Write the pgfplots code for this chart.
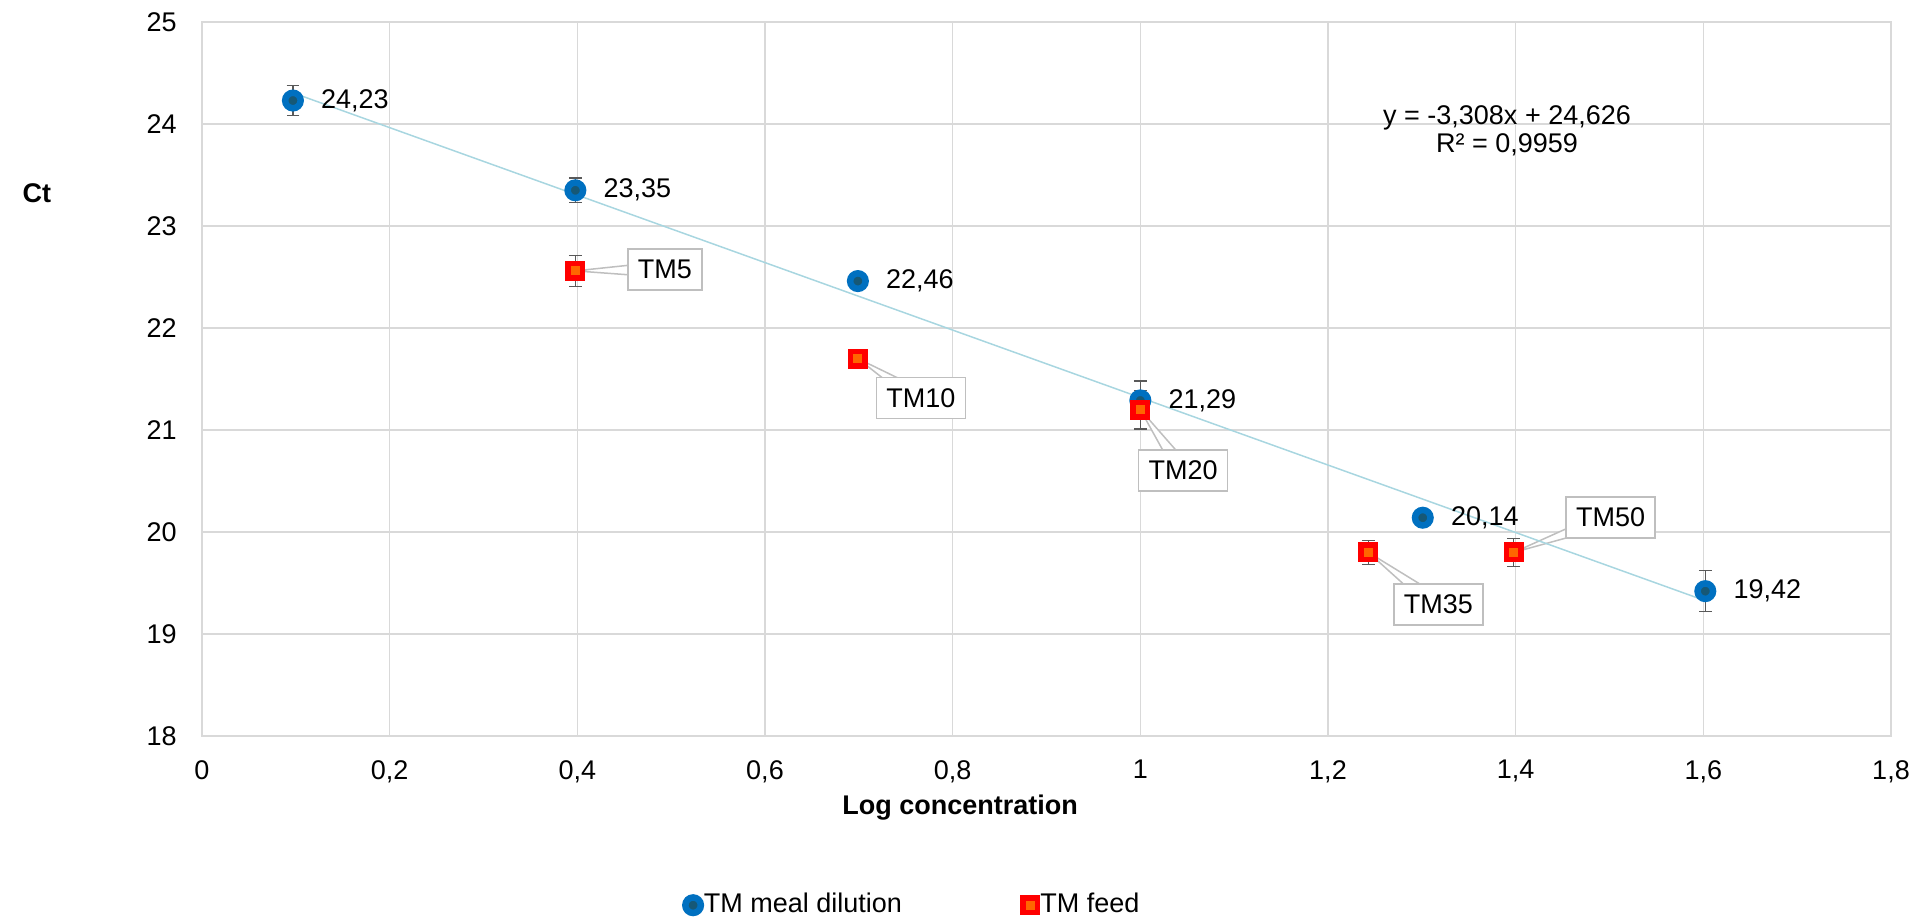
\documentclass[border=0pt]{standalone}
\usepackage{fontspec}
\setmainfont{Liberation Sans}
\usepackage{pgfplots}
\pgfplotsset{compat=1.18}
\usepackage{pgfplotstable}
\definecolor{mealblue}{RGB}{0,112,192}
\definecolor{mealdark}{RGB}{22,88,118}
\definecolor{feedred}{RGB}{255,0,0}
\definecolor{feedorange}{RGB}{255,102,0}
\definecolor{gridgray}{RGB}{217,217,217}
\definecolor{errgray}{RGB}{89,89,89}
\definecolor{trendblue}{RGB}{168,214,224}
\definecolor{calloutgray}{RGB}{191,191,191}

\pgfplotstableread{
x y e
0.0969 24.23 0.15
0.3979 23.35 0.12
0.6990 22.46 0.04
1.0000 21.29 0.19
1.3010 20.14 0.04
1.6021 19.42 0.20
}\mealdata

\pgfplotstableread{
x y e label dx dy
0.3979 22.56 0.15 TM5 44.75 0.7
0.6990 21.70 0.06 TM10 31.5 -19.7
1.0000 21.20 0.19 TM20 21.35 -30.35
1.2430 19.80 0.12 TM35 35 -26.15
1.3979 19.80 0.14 TM50 48.5 17.45
}\feeddata

\begin{document}
\fontsize{13.5}{16}\selectfont
\begin{tikzpicture}
\useasboundingbox (-101pt,-92.5pt) rectangle (858.5pt,368pt);
\begin{axis}[
  at={(0,0)}, anchor=south west,
  scale only axis, width=844.5pt, height=357pt,
  xmin=0, xmax=1.8, ymin=18, ymax=25,
  xtick={0,0.2,0.4,0.6,0.8,1,1.2,1.4,1.6,1.8},
  ytick={18,19,20,21,22,23,24,25},
  grid=major,
  major grid style={gridgray, line width=0.75pt},
  axis line style={gridgray, line width=0.75pt},
  major tick length=0pt,
  /pgf/number format/assume math mode=true,
  /pgf/number format/use comma,
  yticklabel style={xshift=-8pt},
  xticklabel style={yshift=-7.5pt},
  every axis x label/.style={at={(axis description cs:0.4488,-0.1008)}, anchor=center},
  every axis y label/.style={at={(axis description cs:-0.0977,0.7605)}, anchor=center},
  xlabel={\textbf{Log concentration}},
  ylabel={\textbf{Ct}},
  clip=false,
  legend columns=2,
  legend style={at={(axis description cs:0.4215,-0.237)}, anchor=center, draw=none,
    nodes={inner sep=1.5pt},
    /tikz/every even column/.append style={column sep=59pt}},
  legend cell align=left,
  legend image code/.code={\draw[#1] plot coordinates {(0pt,0pt)};},
]
\addplot[only marks, mark=*, mark size=3.875pt,
  mark options={draw=mealblue, fill=mealdark, line width=3.25pt},
  error bars/y dir=both, error bars/y explicit,
  error bars/error bar style={errgray, line width=0.6pt},
  error bars/error mark options={errgray, mark size=3.2pt, line width=0.6pt, rotate=90},
  point meta=y,
  nodes near coords={\pgfmathprintnumber[fixed,fixed zerofill,precision=2,use comma]{\pgfplotspointmeta}},
  every node near coord/.append style={anchor=west, xshift=8pt, text=black},
] table[x=x, y=y, y error=e] {\mealdata};
\addlegendentry{TM meal dilution}
\addplot[only marks, mark=square*, mark size=3.625pt,
  mark options={draw=feedred, fill=feedorange, line width=2.75pt},
  error bars/y dir=both, error bars/y explicit,
  error bars/error bar style={errgray, line width=0.6pt},
  error bars/error mark options={errgray, mark size=3.2pt, line width=0.6pt, rotate=90},
] table[x=x, y=y, y error=e] {\feeddata};
\addlegendentry{TM feed}
% callout pointers (wedges from each point towards its label box)
\begin{scope}[calloutgray, line width=0.75pt, fill=white, line join=round]
\filldraw (axis cs:0.3979,22.56) -- ([shift={(44.69pt,4.7pt)}]axis cs:0.3979,22.56) -- ([shift={(44.81pt,-3.3pt)}]axis cs:0.3979,22.56) -- cycle;
\filldraw (axis cs:0.6990,21.70) -- ([shift={(33.62pt,-16.31pt)}]axis cs:0.6990,21.70) -- ([shift={(29.38pt,-23.09pt)}]axis cs:0.6990,21.70) -- cycle;
\filldraw (axis cs:1.0000,21.20) -- ([shift={(24.62pt,-28.05pt)}]axis cs:1.0000,21.20) -- ([shift={(18.08pt,-32.65pt)}]axis cs:1.0000,21.20) -- cycle;
\filldraw (axis cs:1.2430,19.80) -- ([shift={(37.39pt,-22.95pt)}]axis cs:1.2430,19.80) -- ([shift={(32.61pt,-29.35pt)}]axis cs:1.2430,19.80) -- cycle;
\filldraw (axis cs:1.3979,19.80) -- ([shift={(47.15pt,21.21pt)}]axis cs:1.3979,19.80) -- ([shift={(49.85pt,13.69pt)}]axis cs:1.3979,19.80) -- cycle;
\end{scope}
\addplot[draw=none, forget plot,
  visualization depends on={\thisrow{dx} \as \dx},
  visualization depends on={\thisrow{dy} \as \dy},
  point meta=explicit symbolic,
  nodes near coords,
  every node near coord/.append style={draw=calloutgray, fill=white,
    line width=0.75pt, text=black, anchor=center, xshift=\dx pt, yshift=\dy pt,
    inner xsep=5pt, minimum height=20.5pt},
] table[x=x, y=y, meta=label] {\feeddata};
\addplot[trendblue, line width=0.75pt, forget plot] coordinates {(0.0969,24.3055) (1.6021,19.3262)};
\node[align=center, font=\fontsize{13.5}{14}\selectfont] at (axis cs:1.3908,23.93) {y = -3,308x + 24,626\\R² = 0,9959};
\end{axis}
\end{tikzpicture}
\end{document}
